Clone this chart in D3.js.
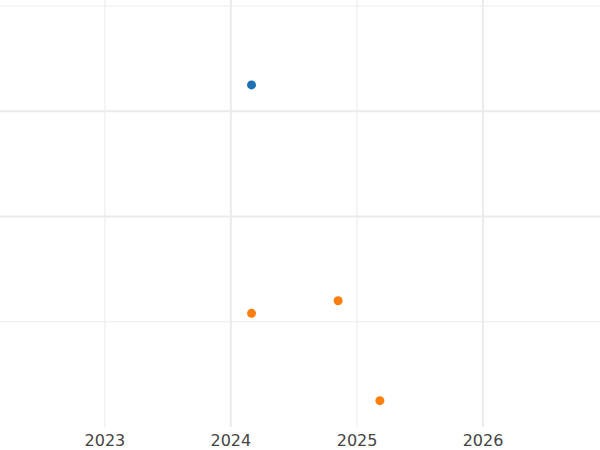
<!DOCTYPE html>
<html><head><meta charset="utf-8">
<script src="https://cdn.jsdelivr.net/npm/d3@7"></script>
<style>body{margin:0;background:#fff}</style>
</head><body>
<script>
var blueDates = ["2024-03-01"];
var blueValues = [3.25];
var orangeDates = ["2024-03-01", "2024-11-07", "2025-03-08"];
var orangeValues = [1.08, 1.2, 0.25];
var yearTicks = [2023, 2024, 2025, 2026];
var yTicks = [1, 2, 3, 4];

var width = 600, height = 450;
var parse = d3.timeParse("%Y-%m-%d");
var x = d3.scaleTime()
	.domain([parse("2022-03-03"), parse("2026-12-06")])
	.range([0, width]);
var y = d3.scaleLinear().domain([0, 4]).range([427, 6]);

var svg = d3.select("body").append("svg")
	.attr("width", width).attr("height", height);

// grid
svg.selectAll(".vgrid").data(yearTicks).enter().append("line")
	.attr("x1", function (d) { return x(new Date(d, 0, 1)); })
	.attr("x2", function (d) { return x(new Date(d, 0, 1)); })
	.attr("y1", 0).attr("y2", 427)
	.attr("stroke", "#ebebeb")
	.attr("stroke-width", function (d) { return d % 2 == 0 ? 2 : 1; });
svg.selectAll(".hgrid").data(yTicks).enter().append("line")
	.attr("x1", 0).attr("x2", width)
	.attr("y1", function (d) { return y(d); })
	.attr("y2", function (d) { return y(d); })
	.attr("stroke", "#ebebeb")
	.attr("stroke-width", function (d) { return (d == 2 || d == 3) ? 2 : 1; });

// year labels
svg.selectAll(".lbl").data(yearTicks).enter().append("text")
	.attr("x", function (d) { return x(new Date(d, 0, 1)); })
	.attr("y", 446)
	.attr("text-anchor", "middle")
	.attr("font-family", "DejaVu Sans")
	.attr("font-size", 16)
	.attr("fill", "#444")
	.text(function (d) { return d; });

function dots(dates, values, color) {
	svg.append("g").selectAll("circle").data(dates).enter().append("circle")
		.attr("cx", function (d) { return x(parse(d)); })
		.attr("cy", function (d, i) { return y(values[i]); })
		.attr("r", 4.5)
		.attr("fill", color);
}
dots(blueDates, blueValues, "#1f6fb4");
dots(orangeDates, orangeValues, "#ff7f0e");
</script>
</body></html>
